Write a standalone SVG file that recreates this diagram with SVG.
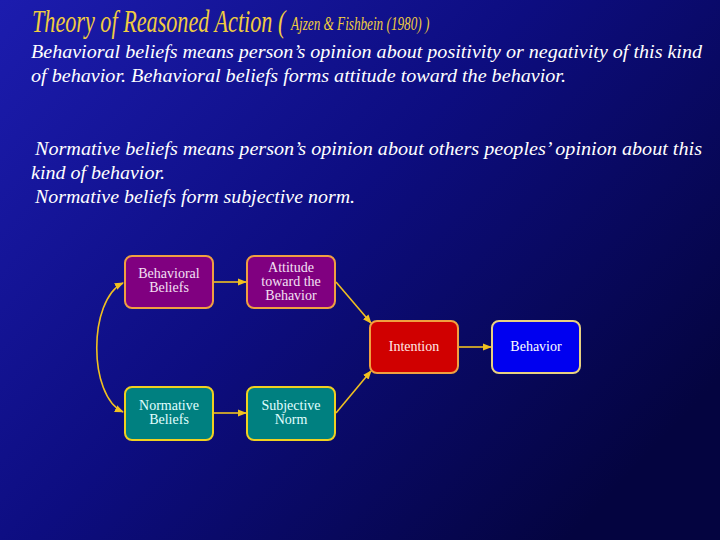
<svg xmlns="http://www.w3.org/2000/svg" width="720" height="540" viewBox="0 0 720 540">
<defs>
<linearGradient id="bg" x1="0" y1="0" x2="1" y2="0.7">
<stop offset="0" stop-color="#1c1cae"/>
<stop offset="0.5" stop-color="#0d0d80"/>
<stop offset="1" stop-color="#040440"/>
</linearGradient>
<marker id="ah" viewBox="0 0 10 10" refX="9" refY="5" markerWidth="9" markerHeight="9" markerUnits="userSpaceOnUse" orient="auto-start-reverse">
<path d="M0,1 L10,5 L0,9 z" fill="#f0c020"/>
</marker>
<style>
.body{font-family:"Liberation Serif","Times New Roman",serif;font-style:italic;font-size:19px;fill:#ffffff}
.title{font-family:"Liberation Serif","Times New Roman",serif;font-style:italic;fill:#f0cc40}
.box{stroke-width:2}
.lbl{font-family:"Liberation Serif","Times New Roman",serif;font-size:14px;text-anchor:middle}
.conn{fill:none;stroke:#f0c020;stroke-width:1.6;marker-end:url(#ah)}
</style>
</defs>
<rect x="0" y="0" width="720" height="540" fill="url(#bg)"/>
<text class="title" transform="translate(32,32) scale(0.716,1)" x="0" y="0" font-size="31">Theory of Reasoned Action (</text>
<text class="title" transform="translate(291,30) scale(0.716,1)" x="0" y="0" font-size="18.4">Ajzen &amp; Fishbein (1980) )</text>
<text class="body" x="31" y="58" textLength="671" lengthAdjust="spacingAndGlyphs">Behavioral beliefs means person’s opinion about positivity or negativity of this kind</text>
<text class="body" x="31" y="82" textLength="535" lengthAdjust="spacingAndGlyphs">of behavior. Behavioral beliefs forms attitude toward the behavior.</text>
<text class="body" x="35" y="155" textLength="667" lengthAdjust="spacingAndGlyphs">Normative beliefs means person’s opinion about others peoples’ opinion about this</text>
<text class="body" x="31" y="179" textLength="134" lengthAdjust="spacingAndGlyphs">kind of behavior.</text>
<text class="body" x="35" y="203" textLength="320" lengthAdjust="spacingAndGlyphs">Normative beliefs form subjective norm.</text>
<g id="connectors">
<path class="conn" d="M214,282 L246,282"/>
<path class="conn" d="M214,413 L246,413"/>
<path class="conn" d="M336,282 L371,323"/>
<path class="conn" d="M336,413 L371,371"/>
<path class="conn" d="M459,347 L491,347"/>
<path class="conn" d="M123,283 C88,300 88,396 123,412" marker-start="url(#ah)"/>
</g>
<g id="behavioral-beliefs">
<rect class="box" x="125" y="256" width="88" height="52" rx="7" fill="#800080" stroke="#f0a040"/>
<text class="lbl" x="169" y="278" fill="#f4e0f4">Behavioral</text>
<text class="lbl" x="169" y="292" fill="#f4e0f4">Beliefs</text>
</g>
<g id="attitude">
<rect class="box" x="247" y="256" width="88" height="52" rx="7" fill="#800080" stroke="#f0a040"/>
<text class="lbl" x="291" y="272" fill="#f4e0f4">Attitude</text>
<text class="lbl" x="291" y="286" fill="#f4e0f4">toward the</text>
<text class="lbl" x="291" y="300" fill="#f4e0f4">Behavior</text>
</g>
<g id="normative-beliefs">
<rect class="box" x="125" y="387" width="88" height="53" rx="7" fill="#008080" stroke="#f0d020"/>
<text class="lbl" x="169" y="410" fill="#e0ffff">Normative</text>
<text class="lbl" x="169" y="424" fill="#e0ffff">Beliefs</text>
</g>
<g id="subjective-norm">
<rect class="box" x="247" y="387" width="88" height="53" rx="7" fill="#008080" stroke="#f0d020"/>
<text class="lbl" x="291" y="410" fill="#e0ffff">Subjective</text>
<text class="lbl" x="291" y="424" fill="#e0ffff">Norm</text>
</g>
<g id="intention">
<rect class="box" x="370" y="321" width="88" height="52" rx="7" fill="#d00000" stroke="#f0a040"/>
<text class="lbl" x="414" y="351" fill="#ffe8e8">Intention</text>
</g>
<g id="behavior">
<rect class="box" x="492" y="321" width="88" height="52" rx="7" fill="#0000f0" stroke="#e8d080"/>
<text class="lbl" x="536" y="351" fill="#ffffff">Behavior</text>
</g>
</svg>
